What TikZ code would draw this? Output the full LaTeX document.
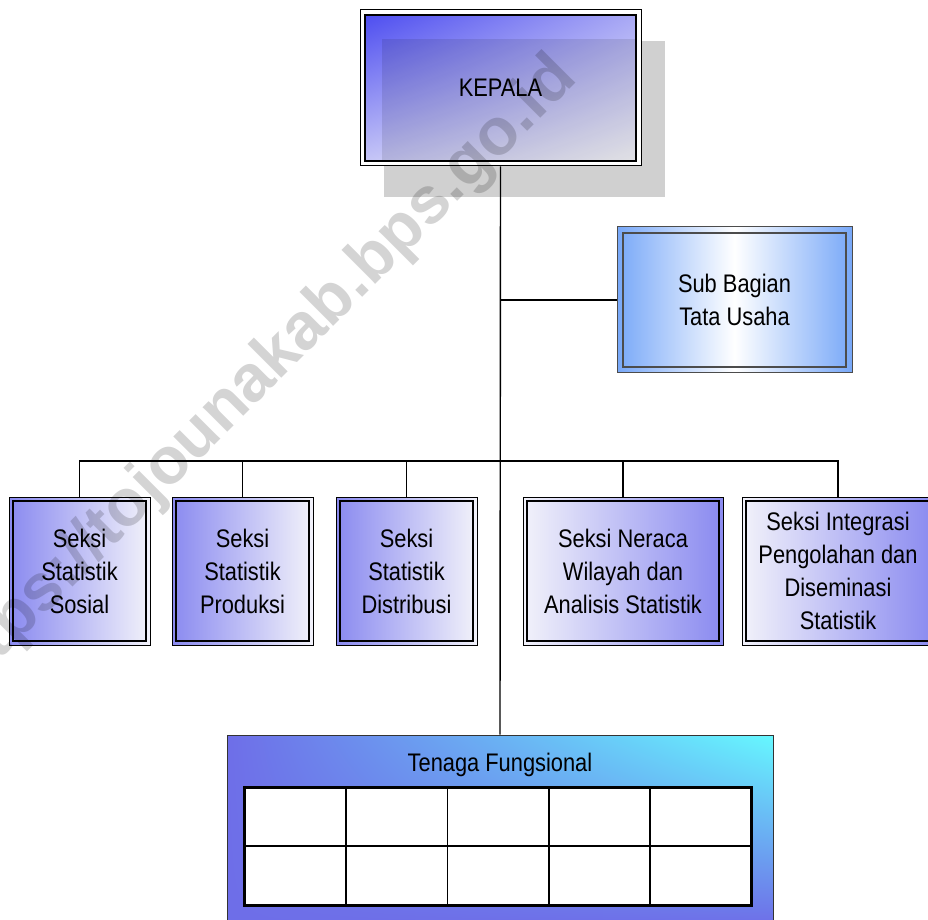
\documentclass[tikz,border=0pt]{standalone}
\usepackage{fontspec}
\setmainfont{Liberation Sans}[FakeStretch=0.86]
\newfontfamily\markfont{Liberation Sans}
\usepackage{tikz}
\usepackage{xcolor}
\usetikzlibrary{shadows,shadings}

\definecolor{seksiblue}{HTML}{8A8AF0}
\definecolor{seksilight}{HTML}{F2F2FA}
\definecolor{tublue}{HTML}{78A8F8}
\definecolor{kepblue}{HTML}{4848F0}
\definecolor{kepright}{HTML}{A8A8F4}
\definecolor{kepleft}{HTML}{C8C8F6}
\definecolor{tfpurple}{HTML}{6E6EE8}
\definecolor{tfcyan}{HTML}{66F8FF}
\definecolor{shadowgray}{HTML}{D0D0D0}

\tikzset{
  box/.style={draw=black, line width=0.5pt, inner sep=0pt, align=center,
    font=\fontsize{12.7}{16.5}\selectfont},
  inner border/.style={path picture={
    \draw[line width=1pt] ([xshift=#1,yshift=-#1]path picture bounding box.north west)
      rectangle ([xshift=-#1,yshift=#1]path picture bounding box.south east);}},
  conn/.style={line width=0.7pt},
  cell/.style={draw=black, line width=0.9pt, fill=white, inner sep=0pt,
    minimum width=50.6pt, minimum height=29.3pt}
}

\begin{document}
\begin{tikzpicture}[x=0.5pt, y=-0.5pt]
    \useasboundingbox (0,0) rectangle (928,920);

    % Kepala
    \node[box, fill=white, minimum width=140.5pt, minimum height=78pt,
      drop shadow={shadow xshift=12pt, shadow yshift=-15.5pt, fill=shadowgray, opacity=1},
      path picture={
        \shade[upper left=kepblue, upper right=kepright, lower left=kepleft, lower right=white]
          ([xshift=2.5pt,yshift=-2.5pt]path picture bounding box.north west)
          rectangle ([xshift=-2.5pt,yshift=2.5pt]path picture bounding box.south east);
        \fill[black, fill opacity=0.1]
          ([xshift=11pt,yshift=-14.5pt]path picture bounding box.north west)
          rectangle ([xshift=-2.5pt,yshift=2.5pt]path picture bounding box.south east);
        \draw[line width=1pt]
          ([xshift=2.5pt,yshift=-2.5pt]path picture bounding box.north west)
          rectangle ([xshift=-2.5pt,yshift=2.5pt]path picture bounding box.south east);
      }] (kepala) at (500.5,88) {KEPALA};

    % Sub Bagian
    \node[box, draw=black!70, minimum width=117.5pt, minimum height=73pt,
      left color=tublue, right color=tublue, middle color=white, inner border=3pt]
      (tu) at (734.5,300) {Sub Bagian\\Tata Usaha};

    % Seksi
    \foreach \name/\x/\w/\lc/\rc/\txt in {
        s1/79.5/70.5/seksiblue/seksilight/{Seksi\\Statistik\\Sosial},
        s2/242.5/70.5/seksiblue/seksilight/{Seksi\\Statistik\\Produksi},
        s3/406.5/70.5/seksiblue/seksilight/{Seksi\\Statistik\\Distribusi},
        s4/623/100/seksilight/seksiblue/{Seksi Neraca\\Wilayah dan\\Analisis Statistik},
        s5/838/96/seksilight/seksiblue/{Seksi Integrasi\\Pengolahan dan\\Diseminasi\\Statistik}} {
        \node[box, minimum width=\w pt, minimum height=74pt,
          left color=\lc, right color=\rc, inner border=2pt] (\name) at (\x,571) {\txt};
    }

    % Tenaga Fungsional
    \node[box, draw=black!80, minimum width=273pt, minimum height=95pt,
      upper left=tfpurple, upper right=tfcyan, lower left=tfpurple, lower right=tfpurple]
      (tf) at (500,830) {};
    \node[box, draw=none] (tftitle) at ([yshift=-15pt]tf.north) {Tenaga Fungsional};
    \foreach \c in {0,...,4} {
        \foreach \r in {0,1} {
            \node[cell] (cell-\c-\r) at ({295.6+101.2*\c},{817+58.5*\r}) {};
        }
    }
    \draw[line width=1.3pt] (cell-0-0.north west) rectangle (cell-4-1.south east);

    % Lines
    \draw[conn] (kepala.south) -- (tf.north);
    \draw[conn] (tu.west) -- (tu.west -| kepala.south);
    \coordinate (bus) at (501,461);
    \foreach \s in {s1,s2,s3,s4,s5} {
        \draw[conn] (\s.north) |- (bus);
    }

    % Watermark
    \node[rotate=45, inner sep=0pt, text=black, text opacity=0.17,
      font=\markfont\bfseries\fontsize{33}{33}\selectfont]
      (watermark) at (255,381) {https://tojounakab.bps.go.id};
\end{tikzpicture}
\end{document}
